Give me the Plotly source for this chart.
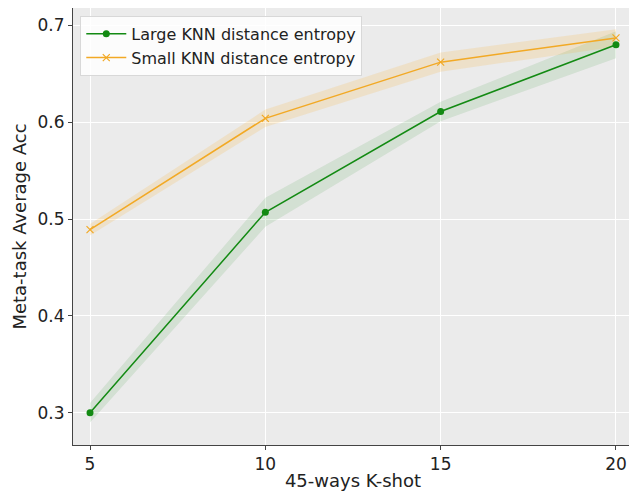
import plotly.graph_objects as go

k_shot = [5, 10, 15, 20]
large_acc = [0.300, 0.507, 0.611, 0.680]
large_err = [0.010, 0.015, 0.010, 0.014]
small_acc = [0.489, 0.604, 0.662, 0.687]
small_err = [0.006, 0.009, 0.010, 0.009]

x_ticks = [5, 10, 15, 20]
y_ticks = [0.3, 0.4, 0.5, 0.6, 0.7]

GREEN = "#138a13"
ORANGE = "#f2a925"

fig = go.Figure()

def band(xs, ys, es, color):
    upper = [y + e for y, e in zip(ys, es)]
    lower = [y - e for y, e in zip(ys, es)]
    return go.Scatter(x=xs + xs[::-1], y=upper + lower[::-1], fill="toself",
                      fillcolor=color, line=dict(width=0), mode="lines",
                      hoverinfo="skip", showlegend=False)

fig.add_trace(band(k_shot, large_acc, large_err, "rgba(0,128,0,0.10)"))
fig.add_trace(band(k_shot, small_acc, small_err, "rgba(255,165,0,0.14)"))

fig.add_trace(go.Scatter(x=k_shot, y=large_acc, mode="lines+markers",
                         name="Large KNN distance entropy",
                         line=dict(color=GREEN, width=1.5),
                         marker=dict(symbol="circle", size=7, color=GREEN)))
fig.add_trace(go.Scatter(x=k_shot, y=small_acc, mode="lines+markers",
                         name="Small KNN distance entropy",
                         line=dict(color=ORANGE, width=1.5),
                         marker=dict(symbol="x-thin", size=7, color=ORANGE,
                                     line=dict(color=ORANGE, width=1.2))))

# page body adds an 8px offset, so the figure is sized to fill the rest
font_family = "DejaVu Sans, sans-serif"
fig.update_layout(
    width=629, height=483,
    margin=dict(l=65, r=4, t=0, b=46),
    paper_bgcolor="white",
    plot_bgcolor="#ebebeb",
    font=dict(family=font_family, size=17, color="#222"),
    legend=dict(x=0.013, y=0.982, xanchor="left", yanchor="top",
                bgcolor="rgba(255,255,255,0.85)", bordercolor="#d8d8d8",
                borderwidth=1, font=dict(size=16, color="#222"),
                tracegroupgap=0, itemwidth=40),
    xaxis=dict(range=[4.515, 20.485], tickvals=x_ticks,
               ticktext=[str(v) for v in x_ticks],
               title=dict(text="45-ways K-shot", standoff=4, font=dict(size=18)),
               showgrid=True, gridcolor="white", gridwidth=1,
               showline=True, linecolor="#444", linewidth=1, mirror=True,
               ticks="outside", ticklen=4, tickcolor="#444", zeroline=False,
               automargin=False),
    yaxis=dict(range=[0.2667, 0.7179], tickvals=y_ticks,
               ticktext=[f"{v:.1f}" for v in y_ticks],
               title=dict(text="Meta-task Average Acc", standoff=6, font=dict(size=18)),
               showgrid=True, gridcolor="white", gridwidth=1,
               showline=True, linecolor="#444", linewidth=1, mirror=True,
               ticks="outside", ticklen=4, tickcolor="#444", zeroline=False,
               automargin=False),
)

fig.write_html("out.html")
